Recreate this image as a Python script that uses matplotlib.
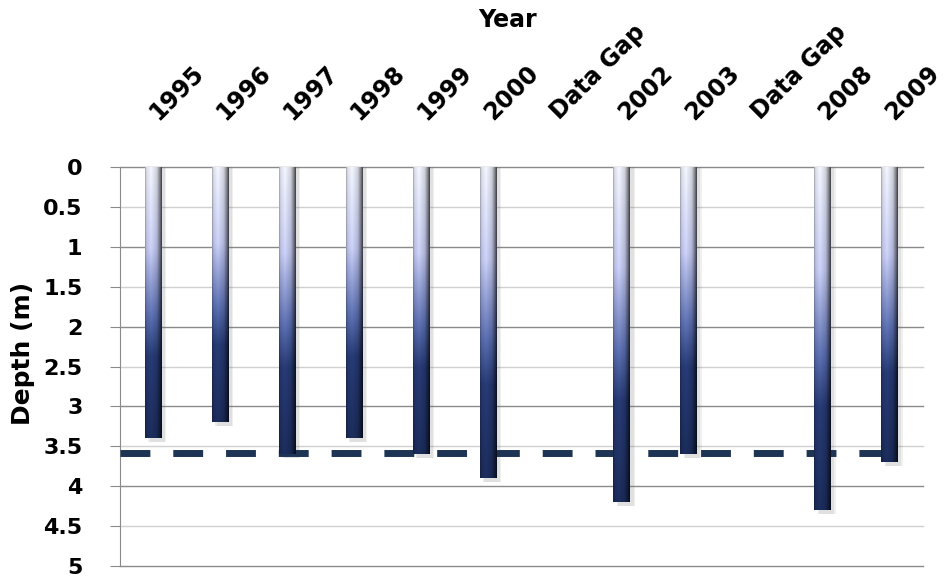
import matplotlib
matplotlib.use("Agg")
import matplotlib.pyplot as plt
import numpy as np

# sampling years along the top axis ("Data Gap" = no survey that year)
categories = ['1995', '1996', '1997', '1998', '1999', '2000', 'Data Gap',
              '2002', '2003', 'Data Gap', '2008', '2009']
depth_m = [3.4, 3.2, 3.6, 3.4, 3.6, 3.9, None, 4.2, 3.6, None, 4.3, 3.7]
reference_depth = 3.58
depth_ticks = [0, 0.5, 1, 1.5, 2, 2.5, 3, 3.5, 4, 4.5, 5]

plt.rcParams['font.family'] = ['DejaVu Sans']
plt.rcParams['font.weight'] = 'bold'


def bar_shading(n_rows=300, n_cols=40):
    # vertical light-to-navy ramp with a cylinder-like sideways shading
    t = np.linspace(0, 1, n_rows)
    stops = [0.0, 0.30, 0.55, 0.70, 1.0]
    r = np.interp(t, stops, [0.86, 0.72, 0.33, 0.14, 0.10])
    g = np.interp(t, stops, [0.87, 0.74, 0.40, 0.21, 0.16])
    b = np.interp(t, stops, [0.90, 0.88, 0.64, 0.42, 0.33])
    base = np.stack([r, g, b], axis=-1)[:, None, :]
    u = np.linspace(0, 1, n_cols)
    side = np.interp(u, [0.0, 0.08, 0.35, 0.7, 0.88, 1.0],
                     [0.75, 1.0, 1.12, 0.95, 0.6, 0.3])[None, :, None]
    return np.clip(base * side, 0, 1)


fig = plt.figure(figsize=(9.49, 5.81), dpi=100)
ax = fig.add_axes([0.1264, 0.0258, 0.8462, 0.6867])

x = np.arange(len(categories))
has_data = [d is not None for d in depth_m]
xs = x[has_data]
heights = [d for d in depth_m if d is not None]

# soft shadow to the right of each bar
for dx, alpha in [(0.07, 0.10), (0.05, 0.12)]:
    ax.bar(xs + dx, [h + 0.05 for h in heights], width=0.25, bottom=0,
           color='#707070', alpha=alpha, linewidth=0, zorder=2)

bars = ax.bar(xs, heights, width=0.25, bottom=0, color='none',
              edgecolor='none', zorder=4)
shade = bar_shading()
for patch in bars:
    x0, y0 = patch.get_x(), patch.get_y()
    w, h = patch.get_width(), patch.get_height()
    im = ax.imshow(shade, extent=[x0, x0 + w, y0 + h, y0], aspect='auto',
                   interpolation='bilinear', zorder=4)
    im.set_clip_path(patch)

ax.axhline(reference_depth, xmin=0, xmax=0.978, color='#1e3454', lw=5,
           linestyle=(0, (4.3, 3.3)), solid_capstyle='butt',
           dash_capstyle='butt', zorder=3)

ax.set_xlim(-0.5, len(categories) - 0.5)
ax.set_ylim(5, 0)
ax.set_yticks(depth_ticks, [f'{v:g}' for v in depth_ticks])

for v in depth_ticks:
    ax.axhline(v, color='#8a8a8a' if float(v).is_integer() else '#d0d0d0',
               lw=1, zorder=1, clip_on=False)

ax.xaxis.tick_top()
ax.set_xticks(x, categories)
ax.tick_params(axis='x', length=0, pad=37, labelsize=17)
for lbl in ax.get_xticklabels():
    lbl.set_rotation(45)
    lbl.set_rotation_mode('anchor')
    lbl.set_ha('left')
    lbl.set_va('center')

ax.tick_params(axis='y', length=7, color='#8a8a8a', pad=20, labelsize=16)
for side in ['top', 'right', 'bottom']:
    ax.spines[side].set_visible(False)
ax.spines['left'].set_color('#8a8a8a')

fig.text(508 / 949, 1 - 20 / 581, 'Year', ha='center', va='center',
         fontsize=17)
fig.text(23 / 949, 1 - 353 / 581, 'Depth (m)', rotation=90, ha='center',
         va='center', fontsize=18)

fig.savefig('out.png', dpi=100)
